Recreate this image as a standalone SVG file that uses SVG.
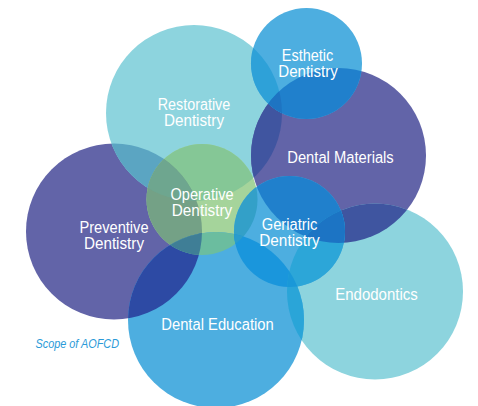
<svg xmlns="http://www.w3.org/2000/svg" xmlns:xlink="http://www.w3.org/1999/xlink" width="478" height="406" viewBox="0 0 478 406">
<style>
.lbl{font-family:"Liberation Sans",Arial,sans-serif;font-size:16px;fill:#ffffff;text-anchor:middle;}
.cap{font-family:"Liberation Sans",Arial,sans-serif;font-size:13.5px;font-style:italic;fill:#2a9ad8;}
</style>
<defs>
<circle id="sPrev" cx="114" cy="231.5" r="88"/>
<circle id="sRes" cx="194" cy="113" r="88"/>
<circle id="sDM" cx="338.5" cy="155.5" r="87.5"/>
<circle id="sEsth" cx="306.5" cy="63.5" r="55.5"/>
<circle id="sOp" cx="202" cy="199.5" r="55.5"/>
<circle id="sEndo" cx="375" cy="291.5" r="88"/>
<circle id="sDE" cx="216" cy="320" r="88"/>
<circle id="sGer" cx="289.5" cy="231.5" r="55.5"/>
<clipPath id="cPrev"><use xlink:href="#sPrev"/></clipPath>
<clipPath id="cRes"><use xlink:href="#sRes"/></clipPath>
<clipPath id="cDM"><use xlink:href="#sDM"/></clipPath>
<clipPath id="cEsth"><use xlink:href="#sEsth"/></clipPath>
<clipPath id="cOp"><use xlink:href="#sOp"/></clipPath>
<clipPath id="cEndo"><use xlink:href="#sEndo"/></clipPath>
<clipPath id="cDE"><use xlink:href="#sDE"/></clipPath>
</defs>
<rect width="478" height="406" fill="#ffffff"/>
<g id="preventive">
<use xlink:href="#sPrev" fill="#6264a8"/>
<text class="lbl" x="114" y="233" textLength="69" lengthAdjust="spacingAndGlyphs">Preventive</text>
<text class="lbl" x="114" y="249" textLength="60" lengthAdjust="spacingAndGlyphs">Dentistry</text>
</g>
<g id="restorative">
<use xlink:href="#sRes" fill="#8dd4de"/>
<use xlink:href="#sRes" fill="#5ba5c2" clip-path="url(#cPrev)"/>
<text class="lbl" x="194" y="110" textLength="72.5" lengthAdjust="spacingAndGlyphs">Restorative</text>
<text class="lbl" x="194" y="126" textLength="60" lengthAdjust="spacingAndGlyphs">Dentistry</text>
</g>
<g id="dental-materials">
<use xlink:href="#sDM" fill="#6264a8"/>
<use xlink:href="#sDM" fill="#4055a0" clip-path="url(#cRes)"/>
<text class="lbl" x="340.5" y="163" textLength="106.5" lengthAdjust="spacingAndGlyphs">Dental Materials</text>
</g>
<g id="esthetic">
<use xlink:href="#sEsth" fill="#4daee0"/>
<use xlink:href="#sEsth" fill="#2ea1d8" clip-path="url(#cRes)"/>
<use xlink:href="#sEsth" fill="#2080cc" clip-path="url(#cDM)"/>
<g clip-path="url(#cRes)"><use xlink:href="#sEsth" fill="#1e74c2" clip-path="url(#cDM)"/></g>
<text class="lbl" x="307.5" y="61" textLength="51.5" lengthAdjust="spacingAndGlyphs">Esthetic</text>
<text class="lbl" x="308" y="76.5" textLength="59.5" lengthAdjust="spacingAndGlyphs">Dentistry</text>
</g>
<g id="operative">
<use xlink:href="#sOp" fill="#a5d49b"/>
<use xlink:href="#sOp" fill="#85c796" clip-path="url(#cRes)"/>
<use xlink:href="#sOp" fill="#74a186" clip-path="url(#cPrev)"/>
<g clip-path="url(#cRes)"><use xlink:href="#sOp" fill="#6ea68f" clip-path="url(#cPrev)"/></g>
<text class="lbl" x="202" y="199.5" textLength="63" lengthAdjust="spacingAndGlyphs">Operative</text>
<text class="lbl" x="202" y="215.5" textLength="60.5" lengthAdjust="spacingAndGlyphs">Dentistry</text>
</g>
<g id="endodontics">
<use xlink:href="#sEndo" fill="#8dd4de"/>
<use xlink:href="#sEndo" fill="#3f55a0" clip-path="url(#cDM)"/>
<text class="lbl" x="376.5" y="300" textLength="82.5" lengthAdjust="spacingAndGlyphs">Endodontics</text>
</g>
<g id="dental-education">
<use xlink:href="#sDE" fill="#4daee0"/>
<use xlink:href="#sDE" fill="#2d4aa4" clip-path="url(#cPrev)"/>
<use xlink:href="#sDE" fill="#6bbd9f" clip-path="url(#cOp)"/>
<use xlink:href="#sDE" fill="#2aa5d8" clip-path="url(#cEndo)"/>
<g clip-path="url(#cPrev)"><use xlink:href="#sDE" fill="#3f7e96" clip-path="url(#cOp)"/></g>
<text class="lbl" x="217.5" y="330" textLength="112.5" lengthAdjust="spacingAndGlyphs">Dental Education</text>
</g>
<g id="geriatric">
<use xlink:href="#sGer" fill="#4daee0"/>
<use xlink:href="#sGer" fill="#2080cc" clip-path="url(#cDM)"/>
<use xlink:href="#sGer" fill="#33a0c8" clip-path="url(#cOp)"/>
<use xlink:href="#sGer" fill="#1a96dc" clip-path="url(#cDE)"/>
<use xlink:href="#sGer" fill="#2ca6d8" clip-path="url(#cEndo)"/>
<g clip-path="url(#cDM)"><use xlink:href="#sGer" fill="#1c74c4" clip-path="url(#cEndo)"/></g>
<g clip-path="url(#cDE)"><use xlink:href="#sGer" fill="#1a98d8" clip-path="url(#cEndo)"/></g>
<g clip-path="url(#cDE)"><use xlink:href="#sGer" fill="#2a9ccc" clip-path="url(#cOp)"/></g>
<text class="lbl" x="289.5" y="229.5" textLength="55.5" lengthAdjust="spacingAndGlyphs">Geriatric</text>
<text class="lbl" x="289.5" y="246" textLength="60.5" lengthAdjust="spacingAndGlyphs">Dentistry</text>
</g>
<text class="cap" x="35.5" y="348" textLength="83.5" lengthAdjust="spacingAndGlyphs">Scope of AOFCD</text>
</svg>
